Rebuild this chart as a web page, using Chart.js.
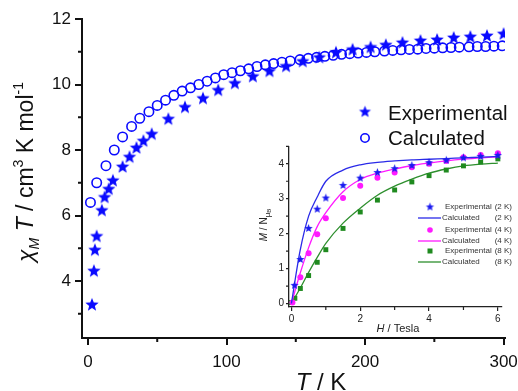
<!DOCTYPE html>
<html>
<head>
<meta charset="utf-8">
<script src="https://cdn.jsdelivr.net/npm/chart.js@4.4.1/dist/chart.umd.min.js"></script>
<style>
html,body{margin:0;padding:0;background:#fff;}
#wrap{position:relative;width:518px;height:391px;overflow:hidden;}
#main{position:absolute;left:0;top:0;}
#inset{position:absolute;left:250px;top:140px;}
</style>
</head>
<body>
<div id="wrap">
  <canvas id="main" width="518" height="391"></canvas>
  <canvas id="inset" width="268" height="200"></canvas>
</div>
<script>
// main plot: chi_M T vs T
const expT = [2.9,4.3,5,6.3,10,12,15,18,25,30,35,40,46,58,70,83,94,106,119,131,143,155,167,179,191,204,215,227,240,252,264,276,288,300];
const expChiT = [3.27,4.3,4.94,5.36,6.15,6.55,6.8,7.06,7.48,7.78,8.06,8.27,8.48,8.94,9.3,9.57,9.82,10.03,10.24,10.4,10.55,10.7,10.82,10.97,11.06,11.13,11.2,11.27,11.33,11.36,11.42,11.45,11.48,11.54];
const calcT = [1.8,6.3,13,19,25,31.5,37.4,44,50,56,62,68,74,80,86,92,98,104,110,116,122,128,134,140,146,153,159,165,171,177,183,189,195,201,207,214,220,226,232,238,244,250,256,262,268,275,281,287,293,299];
const calcChiT = [6.4,7.0,7.52,8.0,8.4,8.72,8.97,9.17,9.36,9.52,9.67,9.8,9.9,10.0,10.1,10.2,10.3,10.36,10.42,10.48,10.55,10.6,10.64,10.68,10.72,10.76,10.8,10.83,10.86,10.89,10.92,10.94,10.96,10.98,11.0,11.02,11.04,11.06,11.07,11.08,11.1,11.11,11.12,11.13,11.14,11.15,11.16,11.16,11.17,11.18];
const xTicks = [0,100,200,300], xMinor = [50,150,250];
const yTicks = [4,6,8,10,12], yMinor = [3,5,7,9,11];

// inset: M vs H
const hExp2 = [0.09,0.26,0.5,0.75,1,1.5,2,2.5,3,3.5,4,4.5,5,5.5,6];
const mExp2 = [0.52,1.26,2.15,2.7,3.02,3.38,3.59,3.75,3.86,3.95,4.03,4.1,4.17,4.21,4.24];
const hExp4 = [0.03,0.26,0.5,0.75,1,1.5,2,2.5,3,3.5,4,4.5,5,5.5,6];
const mExp4 = [0.03,0.75,1.44,1.98,2.44,3.02,3.37,3.6,3.75,3.9,4.0,4.08,4.19,4.25,4.3];
const hExp8 = [0,0.1,0.26,0.5,0.75,1,1.5,2,2.5,3,3.5,4,4.5,5,5.5,6];
const mExp8 = [0.03,0.15,0.43,0.8,1.18,1.54,2.15,2.62,2.96,3.25,3.48,3.66,3.82,3.94,4.05,4.14];
const hCalc = [0,0.25,0.5,0.75,1,1.5,2,2.5,3,3.5,4,4.5,5,5.5,6];
const mCalc2 = [0,1.5,2.5,3.05,3.5,3.82,3.97,4.04,4.08,4.11,4.13,4.15,4.17,4.19,4.21];
const mCalc4 = [0,0.85,1.6,2.2,2.6,3.2,3.55,3.73,3.85,3.95,4.02,4.08,4.13,4.17,4.2];
const mCalc8 = [0,0.43,0.89,1.32,1.72,2.3,2.73,3.1,3.36,3.56,3.73,3.85,3.94,3.99,4.02];
const hTicks = [0,2,4,6], hMinor = [1,3,5];
const mTicks = [0,1,2,3,4], mMinor = [0.5,1.5,2.5,3.5,4.5];

const FONT = "'Liberation Sans', Arial, sans-serif";
const BLUE = '#0a0aff', MAG = '#ff1aff', GREEN = '#1f8a1f';

const pair = (xs, ys) => xs.map((x,i)=>({x, y:ys[i]}));

function starImage(r, color){
  const c = document.createElement('canvas');
  const s = Math.ceil(r*2+2);
  c.width = s; c.height = s;
  const g = c.getContext('2d');
  g.fillStyle = color;
  g.beginPath();
  for(let i=0;i<10;i++){
    const rr = i%2 ? r*0.43 : r;
    const a = -Math.PI/2 + i*Math.PI/5;
    g.lineTo(s/2 + rr*Math.cos(a), s/2 + rr*Math.sin(a));
  }
  g.closePath(); g.fill();
  return c;
}

// rich text with sub/superscripts, centred on (x,y) baseline
function richText(ctx, parts, x, y, size, angle, color){
  ctx.save();
  ctx.translate(x, y);
  ctx.rotate(angle || 0);
  ctx.fillStyle = color || '#111';
  ctx.textAlign = 'left';
  ctx.textBaseline = 'alphabetic';
  const fontOf = p => (p.i ? 'italic ' : '') + Math.round(size*(p.s||1)) + 'px ' + FONT;
  let total = 0;
  parts.forEach(p=>{ ctx.font = fontOf(p); p.w = ctx.measureText(p.t).width; total += p.w; });
  let cx = -total/2;
  parts.forEach(p=>{ ctx.font = fontOf(p); ctx.fillText(p.t, cx, (p.dy||0)*size); cx += p.w; });
  ctx.restore();
}

const minorTicks = {
  id: 'minorTicks',
  afterDraw(chart, args, o){
    const ctx = chart.ctx, a = chart.chartArea, sx = chart.scales.x, sy = chart.scales.y;
    ctx.save();
    ctx.strokeStyle = o.color; ctx.lineWidth = o.width;
    ctx.beginPath();
    o.x.forEach(v=>{ const p = sx.getPixelForValue(v); ctx.moveTo(p, a.bottom); ctx.lineTo(p, a.bottom + o.len); });
    o.y.forEach(v=>{ const p = sy.getPixelForValue(v); ctx.moveTo(a.left, p); ctx.lineTo(a.left - o.len, p); });
    ctx.stroke();
    ctx.restore();
  }
};

const mainDecor = {
  id: 'mainDecor',
  afterDraw(chart){
    const ctx = chart.ctx;
    richText(ctx, [{t:'χ',i:1},{t:'M',i:1,s:0.6,dy:0.28},{t:' T',i:1},{t:' / cm'},{t:'3',s:0.6,dy:-0.45},{t:' K mol'},{t:'-1',s:0.6,dy:-0.45}],
      33, 172, 22.5, -Math.PI/2);
    richText(ctx, [{t:'T',i:1},{t:' / K'}], 321, 390, 23.5, 0);
    // legend
    const ds = chart.data.datasets;
    ctx.drawImage(legendStar, 365 - legendStar.width/2, 112 - legendStar.height/2);
    ctx.beginPath();
    ctx.arc(365, 138, 4.2, 0, Math.PI*2);
    ctx.strokeStyle = ds[1].borderColor; ctx.lineWidth = 1.6; ctx.stroke();
    ctx.fillStyle = '#111';
    ctx.font = '20.5px ' + FONT;
    ctx.textBaseline = 'alphabetic';
    ctx.fillText(ds[0].label, 388, 120);
    ctx.fillText(ds[1].label, 388, 145);
  }
};

const insetDecor = {
  id: 'insetDecor',
  afterDraw(chart){
    const ctx = chart.ctx;
    richText(ctx, [{t:'M',i:1},{t:' / N'},{t:'μ',s:0.75,dy:0.3},{t:'B',s:0.55,dy:0.42}], 17, 85, 10, -Math.PI/2, '#222');
    richText(ctx, [{t:'H',i:1},{t:' / Tesla'}], 148, 192, 11, 0, '#222');
    // legend
    const rows = [67, 78, 90, 101, 111, 122];
    ctx.font = '8px ' + FONT;
    ctx.textBaseline = 'middle';
    chart.data.datasets.forEach((d, i)=>{
      const y = rows[i];
      if(d.showLine){
        ctx.strokeStyle = d.borderColor; ctx.lineWidth = 1.3;
        ctx.beginPath(); ctx.moveTo(168, y); ctx.lineTo(191, y); ctx.stroke();
      } else if(d.pointStyle === 'circle'){
        ctx.fillStyle = d.backgroundColor;
        ctx.beginPath(); ctx.arc(180, y, 2.8, 0, Math.PI*2); ctx.fill();
      } else if(d.pointStyle === 'rect'){
        ctx.fillStyle = d.backgroundColor;
        ctx.fillRect(177.5, y-2.5, 5, 5);
      } else {
        ctx.drawImage(d.pointStyle, 180 - d.pointStyle.width/2, y - d.pointStyle.height/2);
      }
      ctx.fillStyle = '#333';
      ctx.textAlign = 'left';
      ctx.fillText(d.label, d.showLine ? 192 : 195, y);
      ctx.textAlign = 'right';
      ctx.fillText(d.temp, 262, y);
    });
  }
};

const mainStar = starImage(7, BLUE);
const legendStar = starImage(6.3, BLUE);
const insetStar = starImage(4.4, '#1a1af0');

new Chart(document.getElementById('main'), {
  type: 'scatter',
  data: {
    datasets: [
      {label:'Experimental', data: pair(expT, expChiT), pointStyle: mainStar, pointRadius: 7},
      {label:'Calculated', data: pair(calcT, calcChiT), pointStyle:'circle', pointRadius: 4.7,
       borderColor: BLUE, borderWidth: 1.6, backgroundColor: 'rgba(0,0,0,0)'}
    ]
  },
  options: {
    responsive: false, animation: false,
    layout: {padding: {top: 19, right: 13, left: 0, bottom: 0}},
    plugins: {
      legend: {display: false}, tooltip: {enabled: false},
      minorTicks: {x: xMinor, y: yMinor, len: 4, width: 2, color: '#111'}
    },
    scales: {
      x: {
        type: 'linear', min: -4.3, max: 301,
        afterBuildTicks: s => { s.ticks = xTicks.map(v=>({value:v})); },
        afterFit: s => { s.height = 53; s.paddingLeft = 0; s.paddingRight = 0; },
        border: {display: true, color: '#111', width: 2},
        grid: {drawOnChartArea: false, tickLength: 7, lineWidth: 2, color: '#111'},
        ticks: {font: {size: 17, family: FONT}, color: '#111', padding: 7, maxRotation: 0}
      },
      y: {
        min: 2.26, max: 12,
        afterBuildTicks: s => { s.ticks = yTicks.map(v=>({value:v})); },
        afterFit: s => { s.width = 82; s.paddingTop = 0; s.paddingBottom = 0; },
        border: {display: true, color: '#111', width: 2},
        grid: {drawOnChartArea: false, tickLength: 7, lineWidth: 2, color: '#111'},
        ticks: {font: {size: 17, family: FONT}, color: '#111', padding: 4}
      }
    }
  },
  plugins: [minorTicks, mainDecor]
});

new Chart(document.getElementById('inset'), {
  type: 'scatter',
  data: {
    datasets: [
      {label:'Experimental', temp:'(2 K)', data: pair(hExp2, mExp2), pointStyle: insetStar, pointRadius: 4},
      {label:'Calculated', temp:'(2 K)', data: pair(hCalc, mCalc2), showLine: true, pointRadius: 0,
       borderColor: '#2a2ae8', borderWidth: 1.3, cubicInterpolationMode: 'monotone'},
      {label:'Experimental', temp:'(4 K)', data: pair(hExp4, mExp4), pointStyle: 'circle', pointRadius: 3,
       backgroundColor: MAG, borderWidth: 0},
      {label:'Calculated', temp:'(4 K)', data: pair(hCalc, mCalc4), showLine: true, pointRadius: 0,
       borderColor: MAG, borderWidth: 1.3, cubicInterpolationMode: 'monotone'},
      {label:'Experimental', temp:'(8 K)', data: pair(hExp8, mExp8), pointStyle: 'rect', pointRadius: 3.5,
       backgroundColor: GREEN, borderWidth: 0},
      {label:'Calculated', temp:'(8 K)', data: pair(hCalc, mCalc8), showLine: true, pointRadius: 0,
       borderColor: '#2e8f2e', borderWidth: 1.3, cubicInterpolationMode: 'monotone'}
    ]
  },
  options: {
    responsive: false, animation: false,
    layout: {padding: {top: 7, right: 16, left: 0, bottom: 0}},
    plugins: {
      legend: {display: false}, tooltip: {enabled: false},
      minorTicks: {x: hMinor, y: mMinor, len: 3, width: 1.2, color: '#222'}
    },
    scales: {
      x: {
        type: 'linear', min: -0.07, max: 6.12,
        afterBuildTicks: s => { s.ticks = hTicks.map(v=>({value:v})); },
        afterFit: s => { s.height = 33; s.paddingLeft = 0; s.paddingRight = 0; },
        border: {display: true, color: '#222', width: 1.3},
        grid: {drawOnChartArea: false, tickLength: 4, lineWidth: 1.2, color: '#222'},
        ticks: {font: {size: 10, family: FONT}, color: '#222', padding: 2, maxRotation: 0}
      },
      y: {
        min: -0.1, max: 4.48,
        afterBuildTicks: s => { s.ticks = mTicks.map(v=>({value:v})); },
        afterFit: s => { s.width = 39; s.paddingTop = 0; s.paddingBottom = 0; },
        border: {display: true, color: '#222', width: 1.3},
        grid: {drawOnChartArea: false, tickLength: 3, lineWidth: 1.2, color: '#222'},
        ticks: {font: {size: 10, family: FONT}, color: '#222', padding: 2}
      }
    }
  },
  plugins: [minorTicks, insetDecor]
});
</script>
</body>
</html>
